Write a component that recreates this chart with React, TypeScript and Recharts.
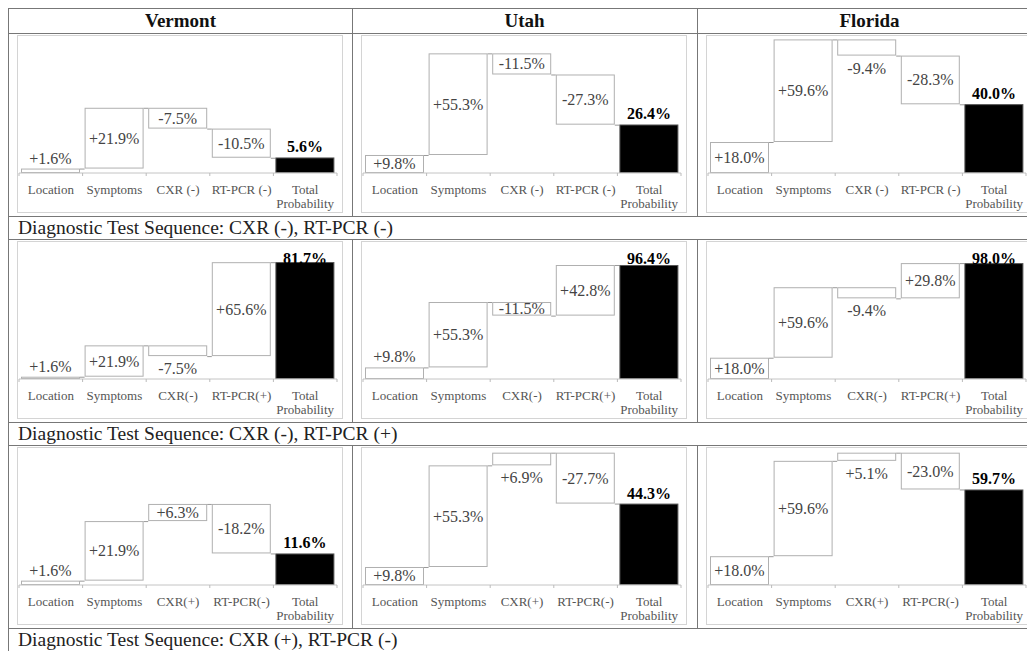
import React from 'react';
import { BarChart, Bar, XAxis, YAxis } from 'recharts';

const SERIF = '"Liberation Serif", "Times New Roman", serif';

// states across the top, one test sequence per row
const states = ['Vermont', 'Utah', 'Florida'];
const sequenceLabels = ['CXR (-), RT-PCR (-)', 'CXR (-), RT-PCR (+)', 'CXR (+), RT-PCR (-)'];
const stepNames = [
  ['Location', 'Symptoms', 'CXR (-)', 'RT-PCR (-)', 'Total Probability'],
  ['Location', 'Symptoms', 'CXR(-)', 'RT-PCR(+)', 'Total Probability'],
  ['Location', 'Symptoms', 'CXR(+)', 'RT-PCR(-)', 'Total Probability'],
];

// change in probability (percentage points) contributed by each step, per state
const locationChange = [1.6, 9.8, 18.0];
const symptomsChange = [21.9, 55.3, 59.6];
// [sequence][state]
const cxrChange = [
  [-7.5, -11.5, -9.4],
  [-7.5, -11.5, -9.4],
  [6.3, 6.9, 5.1],
];
const pcrChange = [
  [-10.5, -27.3, -28.3],
  [65.6, 42.8, 29.8],
  [-18.2, -27.7, -23.0],
];
const totalProbability = [
  [5.6, 26.4, 40.0],
  [81.7, 96.4, 98.0],
  [11.6, 44.3, 59.7],
];
// top of the value axis for each panel
const axisMax = [
  [49, 74, 79],
  [95, 115, 115],
  [50, 74, 85],
];

// layout
const COL_LEFT = [8, 352, 697];
const CHART_ROW_TOP = [33, 239, 445];
const CAPTION_TOP = [216, 422, 628];
const CHART_W = 324;
const CHART_H = 176;
const MARGIN = { top: 1, right: 5, left: 1, bottom: 0 };
const AXIS_H = 39;
const BAR_W = 59;
const BAND = (CHART_W - MARGIN.left - MARGIN.right) / 5;
const GAP = BAND - BAR_W;
const PLOT_TOP = MARGIN.top;
const LINE = '#777';

const fmtChange = (d: number) => `${d > 0 ? '+' : ''}${d.toFixed(1)}%`;

const buildSteps = (r: number, c: number) => {
  const deltas = [locationChange[c], symptomsChange[c], cxrChange[r][c], pcrChange[r][c]];
  let level = 0;
  const rows = deltas.map((d, i) => {
    const from = level;
    level += d;
    return { name: stepNames[r][i], range: [Math.min(from, level), Math.max(from, level)], delta: d, total: false };
  });
  const t = totalProbability[r][c];
  rows.push({ name: stepNames[r][4], range: [0, t], delta: t, total: true });
  return rows;
};

// floating step box + connector + its label
const StepShape = (props: any) => {
  const { x, y, width, height, payload } = props;
  const bottom = y + height;
  const cx = x + width / 2;
  if (payload.total) {
    // total label sits above the bar but never leaves the plot area
    const ty = Math.max(y - 5, PLOT_TOP + 21);
    return (
      <g>
        <rect x={x + 0.5} y={y + 0.5} width={width - 1} height={Math.max(height - 1, 0)} fill="#000" stroke="#555" />
        <text x={cx} y={ty} textAnchor="middle" fontFamily={SERIF} fontSize={16} fontWeight="bold" fill="#000">
          {payload.delta.toFixed(1)}%
        </text>
      </g>
    );
  }
  const endY = payload.delta >= 0 ? y : bottom;
  // label inside the box when it fits, otherwise just outside it
  const fits = height >= 17 || (height >= 13.5 && y > PLOT_TOP + 8);
  let ty: number;
  if (fits) ty = y + height / 2 + 5.5;
  else if (payload.delta < 0 || y < PLOT_TOP + 25) ty = bottom + 18;
  else ty = y - 5;
  return (
    <g>
      <rect x={x + 0.5} y={y + 0.5} width={width - 1} height={Math.max(height - 1, 0)} fill="#fff" stroke="#b0b0b0" />
      <line x1={x + width} x2={x + width + GAP} y1={endY + 0.5} y2={endY + 0.5} stroke="#999" />
      <text x={cx} y={ty} textAnchor="middle" fontFamily={SERIF} fontSize={16} fill="#444">
        {fmtChange(payload.delta)}
      </text>
    </g>
  );
};

const CategoryTick = (props: any) => {
  const { x, y, payload, index } = props;
  const lines = payload.value === 'Total Probability' ? ['Total', 'Probability'] : [payload.value];
  return (
    <g>
      <line x1={x - BAND / 2} x2={x - BAND / 2} y1={y} y2={y + 3} stroke="#bbb" />
      {index === 4 && <line x1={x + BAND / 2} x2={x + BAND / 2} y1={y} y2={y + 3} stroke="#bbb" />}
      <text x={x} y={y + 21} textAnchor="middle" fontFamily={SERIF} fontSize={13} fill="#555">
        {lines.map((l, i) => (
          <tspan key={l} x={x} dy={i === 0 ? 0 : 14}>{l}</tspan>
        ))}
      </text>
    </g>
  );
};

const Panel = ({ r, c }: { r: number; c: number }) => (
  <div
    style={{
      position: 'absolute',
      left: COL_LEFT[c] + 9,
      top: CHART_ROW_TOP[r] + 2,
      width: CHART_W,
      height: CHART_H,
      border: '1px solid #d4d4d4',
    }}
  >
    <BarChart width={CHART_W} height={CHART_H} data={buildSteps(r, c)} margin={MARGIN}>
      <XAxis
        dataKey="name"
        interval={0}
        height={AXIS_H}
        tickLine={false}
        tickSize={0}
        tickMargin={0}
        axisLine={{ stroke: '#c4c4c4' }}
        tick={<CategoryTick />}
      />
      <YAxis hide type="number" domain={[0, axisMax[r][c]]} allowDataOverflow />
      <Bar dataKey="range" barSize={BAR_W} shape={<StepShape />} isAnimationActive={false} />
    </BarChart>
  </div>
);

const hLines = [8, 33, 216, 239, 422, 445, 628];

export default function App() {
  return (
    <div
      style={{
        position: 'fixed',
        left: 0,
        top: 0,
        width: 1027,
        height: 651,
        overflow: 'hidden',
        background: '#fff',
        fontFamily: SERIF,
      }}
    >
      {hLines.map((y) => (
        <div key={y} style={{ position: 'absolute', left: 8, top: y, width: 1100, height: 1, background: LINE }} />
      ))}
      <div style={{ position: 'absolute', left: 8, top: 8, width: 1, height: 700, background: LINE }} />
      {[352, 697].map((x) =>
        [
          [8, 216],
          [239, 422],
          [445, 628],
        ].map(([a, b]) => (
          <div key={`${x}-${a}`} style={{ position: 'absolute', left: x, top: a, width: 1, height: b - a, background: LINE }} />
        ))
      )}
      {states.map((s, c) => (
        <div
          key={s}
          style={{
            position: 'absolute',
            left: COL_LEFT[c],
            top: 9,
            width: 345,
            height: 24,
            lineHeight: '24px',
            textAlign: 'center',
            fontSize: 19,
            fontWeight: 'bold',
            color: '#111',
          }}
        >
          {s}
        </div>
      ))}
      {sequenceLabels.map((seq, r) => (
        <React.Fragment key={seq}>
          {states.map((s, c) => (
            <Panel key={s} r={r} c={c} />
          ))}
          <div
            style={{
              position: 'absolute',
              left: 18,
              top: CAPTION_TOP[r],
              height: 23,
              lineHeight: '23px',
              fontSize: 19.5,
              color: '#222',
              whiteSpace: 'nowrap',
            }}
          >
            Diagnostic Test Sequence: {seq}
          </div>
        </React.Fragment>
      ))}
    </div>
  );
}
